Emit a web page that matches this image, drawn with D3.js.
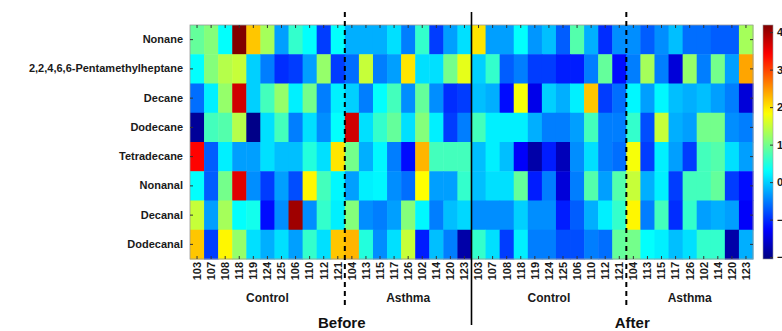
<!DOCTYPE html>
<html>
<head>
<meta charset="utf-8">
<script src="https://cdn.jsdelivr.net/npm/d3@7"></script>
<style>
  html, body { margin: 0; padding: 0; background: #fff; }
  svg { display: block; font-family: Arial, "Liberation Sans", sans-serif; }
</style>
</head>
<body>
<svg id="chart" width="782" height="331"></svg>
<script>
// Compounds (rows, top to bottom)
const compounds = ['Nonane', '2,2,4,6,6-Pentamethylheptane', 'Decane', 'Dodecane',
  'Tetradecane', 'Nonanal', 'Decanal', 'Dodecanal'];

// Subject ids per block (same order before and after)
const controlIds = ['103', '107', '108', '118', '119', '124', '125', '106', '110', '112', '121'];
const asthmaIds = ['104', '113', '115', '117', '126', '102', '114', '120', '123'];
const periods = ['Before', 'After'];

// Heatmap values per compound: 20 "Before" columns then 20 "After" columns
const nonane = [0.9, 1.1, 0.3, 4.2, 2.2, 1.3, -0.3, 0.6, 0.3, -0.9, 0.3, -0.2, -0.2, -0.2, 0.1, -0.5, 0.6, -0.9, -0.3, 0.1,
  2.0, -0.3, -0.3, 0.3, -0.35, -0.1, -0.7, 0.8, -0.2, -1.0, -0.4, -0.4, -0.7, -0.4, -0.1, -0.6, -0.6, -0.7, -0.7, 1.3];
const pentamethylheptane = [0.3, 1.1, 1.4, 1.5, 0.0, -0.5, -1.0, -0.9, -0.3, 1.2, -0.9, -0.6, 1.5, -0.5, -0.3, 2.0, 0.1, 0.1, 1.0, 1.7,
  0.0, 0.6, -0.7, -0.5, -0.9, -0.9, -1.1, -1.1, -0.5, 0.9, -1.2, -0.5, 1.3, -0.5, -1.5, 1.2, -0.5, 1.0, -0.3, 2.4];
const decane = [-0.6, 0.2, 1.2, 3.7, 0.0, 0.7, 1.2, 0.2, 1.0, -0.5, 0.2, 0.0, -0.5, 0.3, 0.7, -0.4, 0.9, -0.4, -1.0, -0.9,
  -0.1, -0.2, -1.2, 1.8, -1.4, 0.0, -0.2, 0.2, 2.2, -0.9, -0.6, 0.25, -0.3, 0.25, -0.1, -0.2, -0.1, -0.3, -0.5, -1.5];
const dodecane = [-1.9, 0.7, 0.8, 1.4, -2.0, 0.1, 0.7, -0.5, 0.1, -0.4, 0.3, 3.7, 0.1, 0.6, 0.9, 0.1, 1.1, 0.2, -0.9, -0.5,
  0.7, 0.2, 0.2, 0.2, -0.2, -0.5, -0.5, -0.3, 0.7, -0.5, -0.5, 0.6, -0.8, 1.5, -0.2, -0.3, 1.0, 1.0, -0.4, -0.5];
const tetradecane = [3.4, -0.7, 0.2, -0.3, -0.3, 0.1, -0.1, -0.1, 0.5, 0.1, 2.0, 1.0, -0.2, 0.25, -0.5, -1.2, 2.3, 0.7, 0.7, 0.7,
  -0.1, 0.2, -0.1, -1.3, -1.8, -1.1, -1.7, -0.4, 0.1, -0.5, -0.6, 1.8, -0.9, 0.2, -0.3, -0.9, 0.7, 0.8, 0.1, -0.3];
const nonanal = [0.3, -0.7, 1.0, 3.6, -0.4, -0.9, -0.3, -0.8, 1.9, 0.7, 0.25, -0.3, 0.2, 0.25, -0.4, -0.6, 1.85, -0.3, -0.3, 0.6,
  -0.1, 0.1, 0.1, 0.9, -1.1, -0.5, -1.5, -0.5, 0.8, -0.3, 0.8, 1.5, -0.2, 0.2, -0.9, 0.7, 0.7, 0.9, -0.9, -1.2];
const decanal = [1.5, -0.3, 1.3, 0.3, 0.4, -1.2, -0.4, 4.0, -0.4, 0.6, 0.2, 1.1, -0.4, -0.5, -0.3, 1.1, 0.25, -0.5, -0.1, 0.05,
  -0.4, -0.4, -0.4, 0.0, -0.4, -0.4, -1.1, -0.7, -0.2, 0.2, 0.6, 1.9, -0.5, 0.7, -1.0, 0.6, -0.3, -0.2, -0.3, -1.3];
const dodecanal = [2.2, -0.9, 1.9, 1.2, 0.1, -0.2, 0.1, -0.3, 0.6, 0.1, 2.2, 2.3, 0.5, -0.4, 0.1, 1.5, -1.1, -0.1, -0.5, -1.8,
  0.6, 0.1, -0.9, 0.2, -0.5, -0.5, -0.8, -0.8, -0.5, -0.6, 0.9, 1.0, 0.3, 0.2, -0.1, 0.1, 0.6, 0.6, -1.8, -0.2];

const valueRows = [nonane, pentamethylheptane, decane, dodecane, tetradecane, nonanal, decanal, dodecanal];

// Colorbar range and ticks
const colorDomain = [-2.05, 4.19];
const colorTicks = [-2, -1, 0, 1, 2, 3, 4];

const margin = { top: 25, left: 190, right: 29, bottom: 72 };
const W = 782, H = 331;
const plotW = W - margin.left - margin.right;
const plotH = H - margin.top - margin.bottom;

const columns = [];
periods.forEach(p => {
  controlIds.forEach(id => columns.push({ period: p, group: 'Control', id }));
  asthmaIds.forEach(id => columns.push({ period: p, group: 'Asthma', id }));
});
const colKeys = columns.map((c, i) => i);

// MATLAB-like jet colormap
function jet(t) {
  const c = v => Math.max(0, Math.min(1, v));
  const r = c(1.5 - Math.abs(4 * t - 3));
  const g = c(1.5 - Math.abs(4 * t - 2));
  const b = c(1.5 - Math.abs(4 * t - 1));
  return d3.rgb(r * 255, g * 255, b * 255).formatHex();
}
const norm = d3.scaleLinear().domain(colorDomain).range([0, 1]).clamp(true);
const color = v => jet(norm(v));

const svg = d3.select('#chart');
const g = svg.append('g').attr('transform', `translate(${margin.left},${margin.top})`);

const x = d3.scaleBand().domain(colKeys).range([0, plotW]);
const y = d3.scaleBand().domain(compounds).range([0, plotH]);

// Cells
const cells = [];
valueRows.forEach((row, ri) => row.forEach((v, ci) => cells.push({ r: compounds[ri], c: ci, v })));
g.append('g').selectAll('rect')
  .data(cells)
  .join('rect')
  .attr('x', d => x(d.c))
  .attr('y', d => y(d.r))
  .attr('width', x.bandwidth() + 0.5)
  .attr('height', y.bandwidth() + 0.5)
  .attr('fill', d => color(d.v));

// Frame
g.append('rect')
  .attr('width', plotW).attr('height', plotH)
  .attr('fill', 'none').attr('stroke', '#9a9a9a').attr('stroke-width', 0.8);

const tickColor = '#333';

// Left axis: compound names with inward ticks
const yAxis = g.append('g')
  .call(d3.axisLeft(y).tickSizeInner(-3).tickSizeOuter(0).tickPadding(7));
yAxis.select('.domain').remove();
yAxis.selectAll('line').attr('stroke', tickColor);
yAxis.selectAll('text')
  .attr('font-size', 11).attr('font-weight', 'bold').attr('fill', '#1a1a1a');

// Right inward ticks
const yRight = g.append('g').attr('transform', `translate(${plotW},0)`)
  .call(d3.axisRight(y).tickSizeInner(-3).tickSizeOuter(0).tickFormat(''));
yRight.select('.domain').remove();
yRight.selectAll('line').attr('stroke', tickColor);

// Top inward ticks
const xTop = g.append('g')
  .call(d3.axisTop(x).tickSizeInner(-3).tickSizeOuter(0).tickFormat(''));
xTop.select('.domain').remove();
xTop.selectAll('line').attr('stroke', tickColor);

// Bottom axis: subject ids, rotated
const xBottom = g.append('g').attr('transform', `translate(0,${plotH})`)
  .call(d3.axisBottom(x).tickSizeInner(-3).tickSizeOuter(0).tickPadding(3)
    .tickFormat(i => columns[i].id));
xBottom.select('.domain').remove();
xBottom.selectAll('line').attr('stroke', tickColor);
xBottom.selectAll('text')
  .attr('font-size', 11).attr('font-weight', 'bold').attr('fill', '#1a1a1a')
  .attr('transform', 'rotate(-90)')
  .attr('text-anchor', 'end')
  .attr('x', -3).attr('y', 0).attr('dy', '0.35em');

// Group labels (Control / Asthma) and period labels
const groups = d3.groups(columns.map((c, i) => ({ ...c, i })), d => d.period + '|' + d.group);
groups.forEach(([, cols]) => {
  const x0 = x(cols[0].i), x1 = x(cols[cols.length - 1].i) + x.bandwidth();
  g.append('text')
    .attr('x', (x0 + x1) / 2)
    .attr('y', plotH + 43)
    .attr('text-anchor', 'middle')
    .attr('font-size', 12).attr('font-weight', 'bold').attr('fill', '#1a1a1a')
    .text(cols[0].group);
});

periods.forEach((p, pi) => {
  const idx = columns.map((c, i) => i).filter(i => columns[i].period === p);
  const x0 = x(idx[0]), x1 = x(idx[idx.length - 1]) + x.bandwidth();
  g.append('text')
    .attr('x', (x0 + x1) / 2 + (pi === 0 ? 11 : 20))
    .attr('y', plotH + 69)
    .attr('text-anchor', 'middle')
    .attr('font-size', 15).attr('font-weight', 'bold').attr('fill', '#111')
    .text(p);
});

// Dashed separators between Control and Asthma in each period
periods.forEach(p => {
  const first = columns.findIndex(c => c.period === p && c.group === 'Asthma');
  g.append('line')
    .attr('x1', x(first)).attr('x2', x(first))
    .attr('y1', -13).attr('y2', plotH + 48)
    .attr('stroke', '#000').attr('stroke-width', 2)
    .attr('stroke-dasharray', '5,4');
});

// Solid separator between Before and After
const afterStart = columns.findIndex(c => c.period === 'After');
g.append('line')
  .attr('x1', x(afterStart)).attr('x2', x(afterStart))
  .attr('y1', -13).attr('y2', plotH + 66)
  .attr('stroke', '#000').attr('stroke-width', 1.6);

// Colorbar
const cbX = plotW + 10, cbW = 10;
const cbScale = d3.scaleLinear().domain(colorDomain).range([plotH, 0]);
const defs = svg.append('defs');
const grad = defs.append('linearGradient').attr('id', 'jetGrad')
  .attr('x1', 0).attr('y1', 1).attr('x2', 0).attr('y2', 0);
d3.range(0, 1.0001, 0.02).forEach(t => {
  grad.append('stop').attr('offset', t).attr('stop-color', jet(t));
});
g.append('rect')
  .attr('x', cbX).attr('y', 0).attr('width', cbW).attr('height', plotH)
  .attr('fill', 'url(#jetGrad)').attr('stroke', '#9a9a9a').attr('stroke-width', 0.6);
const cbAxis = g.append('g').attr('transform', `translate(${cbX + cbW},0)`)
  .call(d3.axisRight(cbScale).tickValues(colorTicks).tickSizeInner(-3).tickSizeOuter(0).tickPadding(4));
cbAxis.select('.domain').remove();
cbAxis.selectAll('line').attr('stroke', tickColor);
cbAxis.selectAll('text')
  .attr('font-size', 11).attr('font-weight', 'bold').attr('fill', '#1a1a1a');
</script>
</body>
</html>
